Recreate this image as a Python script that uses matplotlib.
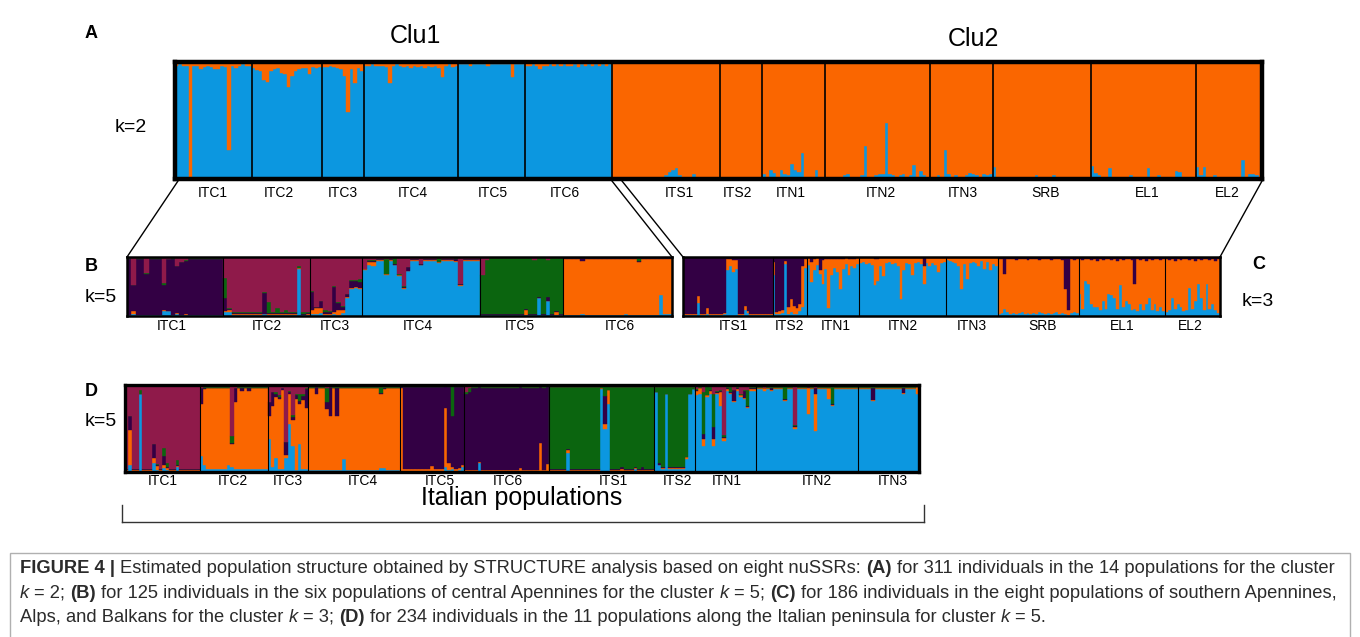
import numpy as np
import matplotlib
matplotlib.use("Agg")
import matplotlib.pyplot as plt
from matplotlib.lines import Line2D
from matplotlib.patches import Rectangle
from matplotlib import font_manager

# ---------------- DATA ----------------
# Panel A (k=2): 14 populations
A_pops = ["ITC1", "ITC2", "ITC3", "ITC4", "ITC5", "ITC6",
          "ITS1", "ITS2", "ITN1", "ITN2", "ITN3", "SRB", "EL1", "EL2"]
A_sizes = [22, 20, 12, 27, 19, 25, 31, 12, 18, 30, 18, 28, 30, 19]
# Clu1 populations: orange (cluster 2) fraction per individual
A_orange_clu1 = {
    "ITC1": [0.03, 0.02, 0.03, 0.03, 0.98, 0.03, 0.03, 0.06, 0.04, 0.03, 0.04,
             0.06, 0.06, 0.03, 0.04, 0.75, 0.03, 0.05, 0.03, 0.02, 0.03, 0.03],
    "ITC2": [0.05, 0.07, 0.08, 0.15, 0.17, 0.08, 0.06, 0.05, 0.09, 0.10,
             0.21, 0.12, 0.08, 0.06, 0.05, 0.05, 0.10, 0.04, 0.05, 0.04],
    "ITC3": [0.04, 0.04, 0.03, 0.04, 0.05, 0.06, 0.12, 0.43, 0.06, 0.18, 0.05, 0.08],
    "ITC4": [0.03, 0.03, 0.02, 0.03, 0.03, 0.03, 0.04, 0.18, 0.03, 0.02, 0.03, 0.04,
             0.03, 0.05, 0.03, 0.04, 0.03, 0.05, 0.03, 0.04, 0.03, 0.05, 0.13, 0.03,
             0.02, 0.04, 0.03],
    "ITC5": [0.02, 0.02, 0.02, 0.03, 0.02, 0.02, 0.02, 0.02, 0.03, 0.02,
             0.02, 0.02, 0.02, 0.02, 0.02, 0.13, 0.02, 0.02, 0.02],
    "ITC6": [0.03, 0.03, 0.02, 0.03, 0.06, 0.03, 0.03, 0.02, 0.03, 0.02, 0.03, 0.02,
             0.03, 0.03, 0.02, 0.04, 0.02, 0.03, 0.02, 0.03, 0.02, 0.03, 0.02, 0.03, 0.02],
}
# Clu2 populations: blue (cluster 1) fraction per individual
A_blue_clu2 = {
    "ITS1": [0.01, 0.01, 0.01, 0.01, 0.01, 0.01, 0.02, 0.01, 0.01, 0.02,
             0.01, 0.02, 0.01, 0.02, 0.02, 0.03, 0.06, 0.08, 0.09, 0.03,
             0.02, 0.02, 0.01, 0.04, 0.02, 0.02, 0.01, 0.02, 0.01, 0.01, 0.01],
    "ITS2": [0.01, 0.01, 0.005, 0.01, 0.01, 0.01, 0.005, 0.01, 0.01, 0.01, 0.01, 0.01],
    "ITN1": [0.04, 0.01, 0.08, 0.05, 0.01, 0.08, 0.04, 0.03, 0.13, 0.08,
             0.06, 0.22, 0.02, 0.02, 0.01, 0.08, 0.01, 0.01],
    "ITN2": [0.01, 0.02, 0.01, 0.02, 0.01, 0.03, 0.04, 0.01, 0.02, 0.01,
             0.03, 0.28, 0.02, 0.01, 0.03, 0.04, 0.04, 0.48, 0.04, 0.03,
             0.02, 0.03, 0.04, 0.02, 0.03, 0.12, 0.02, 0.07, 0.03, 0.02],
    "ITN3": [0.02, 0.02, 0.03, 0.02, 0.25, 0.04, 0.02, 0.03, 0.02, 0.02,
             0.03, 0.05, 0.04, 0.03, 0.02, 0.04, 0.03, 0.04],
    "SRB": [0.10, 0.02, 0.01, 0.02, 0.01, 0.02, 0.02, 0.01, 0.02, 0.02,
            0.01, 0.02, 0.03, 0.02, 0.01, 0.02, 0.02, 0.03, 0.02, 0.01,
            0.02, 0.02, 0.01, 0.02, 0.02, 0.01, 0.02, 0.01],
    "EL1": [0.11, 0.05, 0.03, 0.02, 0.02, 0.09, 0.02, 0.02, 0.01, 0.02,
            0.02, 0.03, 0.02, 0.02, 0.02, 0.02, 0.09, 0.02, 0.02, 0.03,
            0.02, 0.02, 0.01, 0.02, 0.07, 0.06, 0.02, 0.02, 0.01, 0.02],
    "EL2": [0.10, 0.03, 0.10, 0.02, 0.02, 0.03, 0.02, 0.02, 0.02, 0.02,
            0.02, 0.02, 0.02, 0.16, 0.02, 0.04, 0.04, 0.03, 0.02],
}

# Panel B (k=5), central Apennines. Component order: blue, orange, dark purple, green, maroon
B_pops = ["ITC1", "ITC2", "ITC3", "ITC4", "ITC5", "ITC6"]
B_sizes = [22, 20, 12, 27, 19, 25]
B_base = {
    "ITC1": (0.01, 0.01, 0.95, 0.01, 0.02),
    "ITC2": (0.02, 0.01, 0.02, 0.02, 0.93),
    "ITC3": (0.02, 0.02, 0.03, 0.01, 0.92),
    "ITC4": (0.94, 0.01, 0.01, 0.01, 0.03),
    "ITC5": (0.01, 0.01, 0.01, 0.95, 0.02),
    "ITC6": (0.01, 0.95, 0.02, 0.01, 0.01),
}
B_exc = {
    "ITC1": {1: (0.03, 0.05, 0.45, 0.0, 0.47), 4: (0.01, 0.01, 0.70, 0.01, 0.27),
             8: (0.08, 0.02, 0.42, 0.04, 0.44), 9: (0.08, 0.01, 0.87, 0.01, 0.03),
             11: (0.04, 0.01, 0.79, 0.01, 0.15), 12: (0.01, 0.01, 0.89, 0.01, 0.08),
             13: (0.02, 0.01, 0.91, 0.01, 0.05)},
    "ITC2": {0: (0.06, 0.02, 0.22, 0.35, 0.35), 1: (0.06, 0.04, 0.02, 0.02, 0.86),
             9: (0.03, 0.01, 0.35, 0.01, 0.60), 10: (0.02, 0.01, 0.02, 0.18, 0.77),
             12: (0.02, 0.01, 0.02, 0.08, 0.87), 14: (0.02, 0.01, 0.02, 0.05, 0.90),
             17: (0.80, 0.01, 0.01, 0.02, 0.16), 18: (0.01, 0.01, 0.01, 0.04, 0.93)},
    "ITC3": {0: (0.04, 0.06, 0.30, 0.02, 0.58), 1: (0.03, 0.10, 0.02, 0.01, 0.84),
             2: (0.05, 0.08, 0.12, 0.01, 0.74), 3: (0.02, 0.02, 0.02, 0.04, 0.90),
             5: (0.03, 0.04, 0.42, 0.02, 0.49), 6: (0.02, 0.08, 0.12, 0.02, 0.76),
             7: (0.05, 0.06, 0.05, 0.01, 0.83), 8: (0.30, 0.02, 0.05, 0.01, 0.62),
             9: (0.45, 0.02, 0.12, 0.02, 0.39), 10: (0.47, 0.02, 0.10, 0.02, 0.39),
             11: (0.45, 0.02, 0.10, 0.05, 0.38)},
    "ITC4": {0: (0.78, 0.01, 0.01, 0.0, 0.20), 1: (0.86, 0.06, 0.01, 0.02, 0.05),
             2: (0.85, 0.07, 0.01, 0.02, 0.05), 5: (0.70, 0.01, 0.01, 0.25, 0.03),
             7: (0.86, 0.01, 0.01, 0.10, 0.02), 8: (0.68, 0.01, 0.01, 0.02, 0.28),
             9: (0.45, 0.03, 0.01, 0.01, 0.50), 10: (0.76, 0.01, 0.06, 0.0, 0.17),
             13: (0.86, 0.01, 0.01, 0.0, 0.12), 17: (0.90, 0.01, 0.01, 0.06, 0.02),
             21: (0.92, 0.01, 0.04, 0.01, 0.02), 22: (0.50, 0.03, 0.01, 0.01, 0.45)},
    "ITC5": {0: (0.01, 0.01, 0.01, 0.67, 0.30), 1: (0.01, 0.01, 0.01, 0.92, 0.05),
             10: (0.01, 0.10, 0.01, 0.86, 0.02), 12: (0.01, 0.01, 0.01, 0.92, 0.05),
             13: (0.30, 0.01, 0.01, 0.66, 0.02), 15: (0.25, 0.01, 0.06, 0.63, 0.05),
             17: (0.01, 0.05, 0.03, 0.89, 0.02)},
    "ITC6": {4: (0.04, 0.90, 0.04, 0.01, 0.01), 14: (0.03, 0.93, 0.02, 0.01, 0.01),
             17: (0.01, 0.91, 0.01, 0.06, 0.01), 22: (0.35, 0.62, 0.01, 0.01, 0.01),
             23: (0.04, 0.93, 0.01, 0.01, 0.01), 24: (0.03, 0.94, 0.01, 0.01, 0.01)},
}

# Panel C (k=3): order blue, orange, dark purple (orange = remainder)
C_pops = ["ITS1", "ITS2", "ITN1", "ITN2", "ITN3", "SRB", "EL1", "EL2"]
C_sizes = [31, 12, 18, 30, 18, 28, 30, 19]
C_blue = {
    "ITS1": [.02, .02, .01, .02, .02, .22, .02, .02, .03, .02, .01, .02, .02, .02, .03, .78,
             .85, .75, .80, .02, .02, .10, .05, .02, .02, .01, .02, .02, .01, .02, .02],
    "ITS2": [.70, .04, .03, .05, .88, .03, .06, .03, .04, .08, .15, .82],
    "ITN1": [.87, .58, .78, .86, .72, .55, .80, .13, .70, .82, .75, .45, .80, .88, .70, .85, .82, .88],
    "ITN2": [.90, .92, .88, .90, .86, .52, .60, .85, .68, .90, .92, .88, .90, .85, .28,
             .78, .90, .88, .70, .90, .92, .88, .55, .90, .85, .90, .86, .75, .90, .92],
    "ITN3": [.95, .94, .92, .90, .85, .45, .88, .62, .90, .92, .90, .85, .93, .80, .92, .78, .88, .85],
    "SRB": [.04, .05, .12, .06, .04, .05, .04, .05, .06, .04, .05, .04, .05, .04, .06, .05,
            .04, .05, .04, .05, .06, .04, .05, .03, .02, .05, .06, .05],
    "EL1": [.37, .12, .60, .55, .20, .15, .15, .10, .25, .12, .38, .35, .30, .12, .53,
            .15, .25, .20, .10, .12, .08, .20, .10, .20, .30, .10, .20, .08, .15, .08],
    "EL2": [.06, .10, .30, .12, .20, .15, .08, .10, .48, .12, .25, .55, .30, .10, .55, .12, .20, .10, .05],
}
C_dp = {
    "ITS1": [.96, .97, .97, .96, .96, .66, .96, .97, .87, .96, .97, .96, .96, .97, .95, .04,
             .03, .05, .05, .96, .96, .83, .91, .97, .96, .97, .96, .97, .97, .96, .96],
    "ITS2": [.08, .93, .92, .90, .07, .85, .72, .83, .86, .80, .15, .03],
    "ITN1": [.02, .08, .04, .02, .22, .05, .03, .04, .03, .03, .03, .03, .03, .02, .03, .03, .03, .02],
    "ITN2": [.02, .02, .02, .02, .02, .03, .03, .02, .02, .02, .02, .02, .02, .02, .02,
             .02, .02, .02, .02, .02, .02, .02, .15, .02, .02, .02, .02, .02, .02, .02],
    "ITN3": [.01, .01, .01, .01, .01, .01, .01, .01, .01, .01, .01, .01, .01, .01, .01, .01, .01, .01],
    "SRB": [.03, .04, .28, .04, .03, .04, .05, .04, .03, .04, .05, .04, .03, .04, .05, .04,
            .03, .04, .05, .04, .03, .04, .05, .55, .90, .04, .05, .04],
    "EL1": [.04, .05, .04, .03, .05, .04, .06, .04, .05, .04, .03, .05, .04, .06, .04,
            .05, .04, .03, .05, .45, .04, .05, .04, .06, .04, .05, .04, .03, .05, .04],
    "EL2": [.04, .05, .04, .06, .04, .05, .04, .03, .05, .04, .06, .04, .05, .04, .03, .05, .04, .06, .04],
}

# Panel D (k=5), Italian populations. Order: blue, orange, dark purple, green, maroon
D_pops = ["ITC1", "ITC2", "ITC3", "ITC4", "ITC5", "ITC6", "ITS1", "ITS2", "ITN1", "ITN2", "ITN3"]
D_sizes = [22, 20, 12, 27, 19, 25, 31, 12, 18, 30, 18]
D_base = {
    "ITC1": (0.01, 0.01, 0.01, 0.01, 0.96),
    "ITC2": (0.03, 0.93, 0.01, 0.01, 0.02),
    "ITC3": (0.04, 0.90, 0.02, 0.01, 0.03),
    "ITC4": (0.02, 0.94, 0.01, 0.01, 0.02),
    "ITC5": (0.01, 0.02, 0.95, 0.01, 0.01),
    "ITC6": (0.01, 0.01, 0.95, 0.01, 0.02),
    "ITS1": (0.01, 0.01, 0.01, 0.95, 0.02),
    "ITS2": (0.03, 0.02, 0.01, 0.92, 0.02),
    "ITN1": (0.93, 0.02, 0.01, 0.02, 0.02),
    "ITN2": (0.95, 0.01, 0.01, 0.01, 0.02),
    "ITN3": (0.95, 0.01, 0.01, 0.01, 0.02),
}
D_exc = {
    "ITC1": {1: (0.08, 0.40, 0.16, 0.0, 0.36), 4: (0.90, 0.0, 0.0, 0.04, 0.06),
             8: (0.10, 0.06, 0.16, 0.0, 0.68), 9: (0.02, 0.05, 0.01, 0.01, 0.91),
             11: (0.05, 0.03, 0.10, 0.10, 0.72), 12: (0.02, 0.03, 0.01, 0.04, 0.90),
             15: (0.06, 0.01, 0.01, 0.06, 0.86)},
    "ITC2": {0: (0.18, 0.60, 0.18, 0.0, 0.04), 1: (0.08, 0.87, 0.02, 0.01, 0.02),
             8: (0.08, 0.88, 0.01, 0.01, 0.02), 9: (0.06, 0.26, 0.01, 0.08, 0.59),
             10: (0.03, 0.78, 0.15, 0.01, 0.03), 12: (0.03, 0.90, 0.04, 0.01, 0.02),
             14: (0.03, 0.90, 0.04, 0.01, 0.02)},
    "ITC3": {0: (0.38, 0.26, 0.16, 0.0, 0.20), 1: (0.06, 0.70, 0.16, 0.0, 0.08),
             2: (0.16, 0.70, 0.04, 0.02, 0.08), 3: (0.04, 0.80, 0.02, 0.02, 0.12),
             5: (0.16, 0.04, 0.14, 0.01, 0.65), 6: (0.55, 0.35, 0.02, 0.01, 0.07),
             7: (0.30, 0.30, 0.03, 0.02, 0.35), 8: (0.02, 0.82, 0.04, 0.02, 0.10),
             9: (0.32, 0.46, 0.04, 0.08, 0.10), 10: (0.03, 0.80, 0.04, 0.03, 0.10),
             11: (0.03, 0.70, 0.22, 0.02, 0.03)},
    "ITC4": {2: (0.02, 0.88, 0.08, 0.0, 0.02), 5: (0.02, 0.70, 0.08, 0.16, 0.04),
             6: (0.02, 0.62, 0.34, 0.0, 0.02), 8: (0.02, 0.62, 0.33, 0.01, 0.02),
             10: (0.15, 0.81, 0.01, 0.01, 0.02), 21: (0.05, 0.85, 0.01, 0.07, 0.02),
             22: (0.05, 0.90, 0.02, 0.01, 0.02)},
    "ITC5": {0: (0.01, 0.95, 0.02, 0.01, 0.01), 9: (0.01, 0.06, 0.91, 0.01, 0.01),
             13: (0.06, 0.67, 0.26, 0.0, 0.01), 14: (0.02, 0.08, 0.88, 0.01, 0.01),
             15: (0.04, 0.02, 0.58, 0.36, 0.0), 17: (0.02, 0.03, 0.93, 0.01, 0.01),
             18: (0.06, 0.02, 0.90, 0.01, 0.01)},
    "ITC6": {0: (0.01, 0.01, 0.88, 0.02, 0.08), 1: (0.01, 0.01, 0.90, 0.04, 0.04),
             4: (0.10, 0.01, 0.87, 0.01, 0.01), 16: (0.01, 0.04, 0.93, 0.01, 0.01),
             22: (0.01, 0.32, 0.65, 0.01, 0.01), 24: (0.01, 0.08, 0.89, 0.01, 0.01)},
    "ITS1": {5: (0.22, 0.03, 0.01, 0.72, 0.02), 15: (0.95, 0.02, 0.0, 0.02, 0.01),
             16: (0.50, 0.05, 0.32, 0.12, 0.01), 17: (0.78, 0.16, 0.0, 0.05, 0.01),
             21: (0.01, 0.03, 0.02, 0.92, 0.02), 25: (0.04, 0.01, 0.01, 0.92, 0.02),
             27: (0.01, 0.01, 0.04, 0.92, 0.02)},
    "ITS2": {0: (0.92, 0.0, 0.0, 0.06, 0.02), 1: (0.08, 0.0, 0.02, 0.88, 0.02),
             3: (0.90, 0.0, 0.0, 0.08, 0.02), 9: (0.15, 0.02, 0.0, 0.81, 0.02),
             10: (0.90, 0.0, 0.0, 0.08, 0.02), 11: (0.95, 0.0, 0.0, 0.03, 0.02)},
    "ITN1": {0: (0.88, 0.05, 0.01, 0.01, 0.05), 1: (0.90, 0.06, 0.01, 0.01, 0.02),
             2: (0.30, 0.08, 0.06, 0.48, 0.08), 3: (0.86, 0.02, 0.01, 0.10, 0.01),
             4: (0.90, 0.03, 0.01, 0.04, 0.02), 5: (0.30, 0.08, 0.14, 0.38, 0.10),
             6: (0.90, 0.01, 0.01, 0.01, 0.07), 7: (0.76, 0.16, 0.01, 0.01, 0.06),
             8: (0.36, 0.03, 0.01, 0.02, 0.58), 10: (0.90, 0.01, 0.01, 0.06, 0.02),
             11: (0.80, 0.02, 0.12, 0.0, 0.06), 13: (0.86, 0.02, 0.01, 0.01, 0.10),
             14: (0.84, 0.01, 0.08, 0.01, 0.06), 15: (0.74, 0.01, 0.01, 0.18, 0.06)},
    "ITN2": {2: (0.93, 0.03, 0.0, 0.0, 0.04), 4: (0.93, 0.01, 0.03, 0.01, 0.02),
             8: (0.82, 0.01, 0.01, 0.16, 0.0), 11: (0.50, 0.02, 0.01, 0.01, 0.46),
             15: (0.67, 0.30, 0.01, 0.0, 0.02), 17: (0.47, 0.43, 0.06, 0.01, 0.03),
             21: (0.84, 0.12, 0.01, 0.01, 0.02), 22: (0.76, 0.01, 0.01, 0.20, 0.02)},
    "ITN3": {4: (0.82, 0.01, 0.14, 0.01, 0.02), 13: (0.90, 0.01, 0.06, 0.01, 0.02),
             17: (0.90, 0.08, 0.0, 0.0, 0.02)},
}

# ---------------- STYLE ----------------
W, H = 1360, 637
BLUE, ORANGE, DPURP, GREEN, MAROON = "#0c97e0", "#fa6600", "#330044", "#0b650f", "#8f1a4a"
LABEL_FONT = "Liberation Sans"
names = {f.name for f in font_manager.fontManager.ttflist}
CAP_FONT = "Liberation Sans Narrow" if "Liberation Sans Narrow" in names else "Liberation Sans"

fig = plt.figure(figsize=(W / 100, H / 100), dpi=100)
fig.patch.set_facecolor("white")


def fx(x):
    return x / W


def fy(y):
    return 1 - y / H


def rect_px(x0, y0, x1, y1):
    return [fx(x0), fy(y1), (x1 - x0) / W, (y1 - y0) / H]


def build_q(pops, sizes, base, exc):
    rows = []
    for p, n in zip(pops, sizes):
        for i in range(n):
            r = np.array(exc[p].get(i, base[p]), float)
            rows.append(r / r.sum())
    return np.array(rows)


def draw_structure(rect, sizes, Q, colors, frame_lw, sep_lw):
    ax = fig.add_axes(rect)
    N = Q.shape[0]
    x = np.arange(N)
    bottom = np.zeros(N)
    for k, c in enumerate(colors):
        ax.bar(x, Q[:, k], width=1.0, bottom=bottom, align="edge", color=c,
               edgecolor=c, linewidth=0.3)
        bottom += Q[:, k]
    ax.set_xlim(0, N)
    ax.set_ylim(0, 1)
    for b in np.cumsum(sizes)[:-1]:
        ax.axvline(b, color="black", lw=sep_lw)
    ax.set_xticks([])
    ax.set_yticks([])
    for s in ax.spines.values():
        s.set_linewidth(frame_lw)
        s.set_color("black")
    return ax


# ---- Panel A ----
blueA = []
for p in A_pops:
    if p in A_orange_clu1:
        blueA += [1 - v for v in A_orange_clu1[p]]
    else:
        blueA += A_blue_clu2[p]
blueA = np.array(blueA)
QA = np.column_stack([blueA, 1 - blueA])
draw_structure(rect_px(175, 62, 1262, 179), A_sizes, QA, [BLUE, ORANGE], 3.2, 1.2)

# ---- Panel B ----
QB = build_q(B_pops, B_sizes, B_base, B_exc)
draw_structure(rect_px(127, 257, 672, 316), B_sizes, QB, [BLUE, ORANGE, DPURP, GREEN, MAROON], 1.8, 0.8)

# ---- Panel C ----
cb, cd = [], []
for p in C_pops:
    cb += C_blue[p]
    cd += C_dp[p]
cb, cd = np.array(cb), np.array(cd)
QC = np.column_stack([cb, np.clip(1 - cb - cd, 0, 1), cd])
draw_structure(rect_px(683, 257, 1220, 316), C_sizes, QC, [BLUE, ORANGE, DPURP], 1.8, 0.8)

# ---- Panel D ----
QD = build_q(D_pops, D_sizes, D_base, D_exc)
draw_structure(rect_px(125, 385, 919, 472), D_sizes, QD, [BLUE, ORANGE, DPURP, GREEN, MAROON], 2.4, 0.8)

# ---- population labels ----
A_lab_x = [213, 279, 343, 413, 493, 565, 679, 738, 791, 881, 963, 1046, 1147, 1227]
B_lab_x = [172, 267, 335, 418, 520, 620]
C_lab_x = [733, 789, 836, 903, 972, 1043, 1122, 1190]
D_lab_x = [163, 233, 288, 363, 440, 508, 613, 678, 727, 817, 893]
LAB_SIZE = 10
for lab, x in zip(A_pops, A_lab_x):
    fig.text(fx(x), fy(193), lab, ha="center", va="center", fontsize=LAB_SIZE, family=LABEL_FONT)
for lab, x in zip(B_pops, B_lab_x):
    fig.text(fx(x), fy(326), lab, ha="center", va="center", fontsize=LAB_SIZE, family=LABEL_FONT)
for lab, x in zip(C_pops, C_lab_x):
    fig.text(fx(x), fy(326), lab, ha="center", va="center", fontsize=LAB_SIZE, family=LABEL_FONT)
for lab, x in zip(D_pops, D_lab_x):
    fig.text(fx(x), fy(481), lab, ha="center", va="center", fontsize=LAB_SIZE, family=LABEL_FONT)

# ---- panel letters, k labels, cluster titles ----
for letter, x, y in [("A", 91, 33), ("B", 91, 266), ("C", 1259, 265), ("D", 91, 392)]:
    fig.text(fx(x), fy(y), letter, ha="center", va="center", fontsize=13,
             fontweight="bold", family=LABEL_FONT)
for txt, x, y in [("k=2", 131, 128), ("k=5", 101, 298), ("k=3", 1258, 301), ("k=5", 101, 421)]:
    fig.text(fx(x), fy(y), txt, ha="center", va="center", fontsize=14, family=LABEL_FONT)
fig.text(fx(415), fy(36), "Clu1", ha="center", va="center", fontsize=18, family=LABEL_FONT)
fig.text(fx(973), fy(39), "Clu2", ha="center", va="center", fontsize=18, family=LABEL_FONT)
fig.text(fx(522), fy(498), "Italian populations", ha="center", va="center", fontsize=18,
         family=LABEL_FONT)

# ---- connector lines and bracket ----
def fline(x0, y0, x1, y1, lw=1.0, color="black"):
    fig.add_artist(Line2D([fx(x0), fx(x1)], [fy(y0), fy(y1)], transform=fig.transFigure,
                          color=color, lw=lw))

fline(178, 181, 127, 257)
fline(612, 181, 672, 257)
fline(622, 181, 683, 257)
fline(1262, 181, 1220, 257)
fline(122, 522, 924, 522, color="#333333")
fline(122, 505, 122, 522, color="#333333")
fline(924, 505, 924, 522, color="#333333")

# ---- caption box ----
fig.add_artist(Rectangle((fx(10), fy(660)), (1350 - 10) / W, (660 - 553) / H,
                         transform=fig.transFigure, fill=False, edgecolor="#b0b0b0", lw=1.0))

R = fig.canvas.get_renderer()
STY = {"rm": ("normal", "normal"), "bf": ("bold", "normal"), "it": ("normal", "italic")}
CAP_COLOR = "#2b2b2b"


def twidth(s, size, sty):
    w, st = STY[sty]
    t = fig.text(0, 0, s, fontsize=size, family=CAP_FONT, fontweight=w, fontstyle=st)
    wd = t.get_window_extent(renderer=R).width
    t.remove()
    return wd


def rich_line(x0, ybase, pieces, size, draw=True):
    x = x0
    sp = {k: twidth("n n", size, k) - twidth("nn", size, k) for k in STY}
    for s, sty in pieces:
        lead = len(s) - len(s.lstrip(" "))
        trail = len(s) - len(s.rstrip(" "))
        core = s.strip(" ")
        x += lead * sp[sty]
        if core:
            if draw:
                w, st = STY[sty]
                fig.text(fx(x), fy(ybase), core, fontsize=size, family=CAP_FONT,
                         fontweight=w, fontstyle=st, ha="left", va="baseline", color=CAP_COLOR)
            x += twidth(core, size, sty)
        x += trail * sp[sty]
    return x - x0


line1 = [("FIGURE 4 |", "bf"),
         (" Estimated population structure obtained by STRUCTURE analysis based on eight nuSSRs: ", "rm"),
         ("(A)", "bf"), (" for 311 individuals in the 14 populations for the cluster", "rm")]
line2 = [("k", "it"), (" = 2; ", "rm"), ("(B)", "bf"),
         (" for 125 individuals in the six populations of central Apennines for the cluster ", "rm"),
         ("k", "it"), (" = 5; ", "rm"), ("(C)", "bf"),
         (" for 186 individuals in the eight populations of southern Apennines,", "rm")]
line3 = [("Alps, and Balkans for the cluster ", "rm"), ("k", "it"), (" = 3; ", "rm"), ("(D)", "bf"),
         (" for 234 individuals in the 11 populations along the Italian peninsula for cluster ", "rm"),
         ("k", "it"), (" = 5.", "rm")]

w10 = rich_line(20, 572, line1, 10, draw=False)
cap_size = 10 * 1320 / w10
rich_line(20, 573, line1, cap_size)
rich_line(20, 598, line2, cap_size)
rich_line(20, 622, line3, cap_size)

fig.savefig("out.png", dpi=100, facecolor="white")
